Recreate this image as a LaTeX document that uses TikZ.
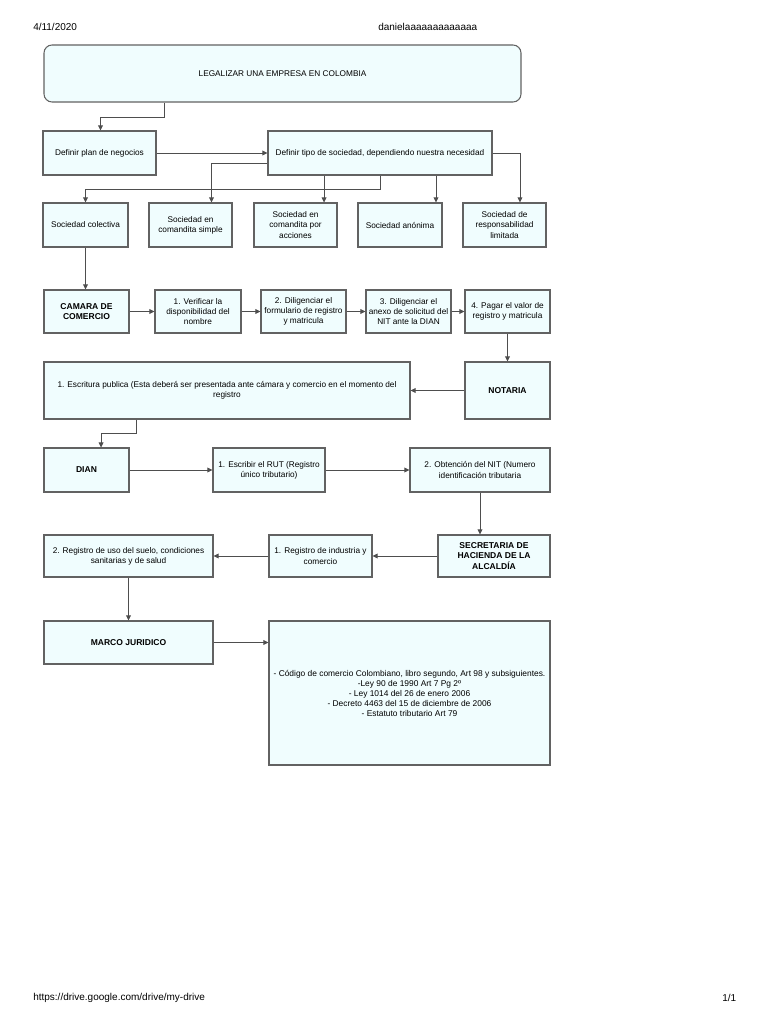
\documentclass[tikz,border=0pt]{standalone}
\usepackage{fontspec}
\setmainfont{Liberation Sans}
\usepackage{xcolor}
\definecolor{boxfill}{HTML}{F0FDFE}
\definecolor{boxline}{HTML}{626262}
\definecolor{linkgrey}{HTML}{4E4E4E}
\usetikzlibrary{arrows.meta,positioning}

\begin{document}
\begin{tikzpicture}[x=0.75pt,y=-0.75pt,
  stepbox/.style={draw=boxline,line width=0.8pt,fill=boxfill,align=center,
    font=\fontsize{6.2}{7.6}\selectfont,inner sep=1pt},
  keybox/.style={stepbox,font=\fontsize{6.4}{7.6}\selectfont\bfseries},
  pagetxt/.style={font=\fontsize{7.5}{9}\selectfont,anchor=west,inner sep=0pt},
  arr/.style={-{Triangle[length=3.8pt,width=3.6pt]},line width=0.6pt,linkgrey}]
  \useasboundingbox (0,0) rectangle (768,1024);
  % page header and footer
  \node[pagetxt] (date) at (33,27) {4/11/2020};
  \node[pagetxt] (user) at (378,27) {danielaaaaaaaaaaaaa};
  \node[pagetxt] (url) at (33,998) {https://drive.google.com/drive/my-drive};
  \node[pagetxt] (pg) at (722,998) {1/1};
  % title and first choices
  \node[stepbox,rounded corners=6pt,minimum width=477*0.75pt,minimum height=57*0.75pt]
    (title) at (282.5,73.5) {LEGALIZAR UNA EMPRESA EN COLOMBIA};
  \node[stepbox,minimum width=113*0.75pt,minimum height=44*0.75pt] (plan) at (99.5,153)
    {Definir plan de negocios};
  \node[stepbox,minimum width=224*0.75pt,minimum height=44*0.75pt] (tipo) at (380,153)
    {Definir tipo de sociedad, dependiendo nuestra necesidad};
  % kinds of company
  \node[stepbox,minimum width=85*0.75pt,minimum height=44*0.75pt] (colectiva) at (85.5,225)
    {Sociedad colectiva};
  \node[stepbox,minimum width=83*0.75pt,minimum height=44*0.75pt] (simple) at (190.5,225)
    {Sociedad en\\comandita simple};
  \node[stepbox,minimum width=83*0.75pt,minimum height=44*0.75pt] (acciones) at (295.5,225)
    {Sociedad en\\comandita por\\acciones};
  \node[stepbox,minimum width=84*0.75pt,minimum height=44*0.75pt] (anonima) at (400,225)
    {Sociedad anónima};
  \node[stepbox,minimum width=83*0.75pt,minimum height=44*0.75pt] (limitada) at (504.5,225)
    {Sociedad de\\responsabilidad\\limitada};
  % camara de comercio
  \node[keybox,minimum width=85*0.75pt,minimum height=43*0.75pt] (camara) at (86.5,311.5)
    {CAMARA DE\\COMERCIO};
  \node[stepbox,minimum width=86*0.75pt,minimum height=43*0.75pt] (verificar) at (198,311.5)
    {1. Verificar la\\disponibilidad del\\nombre};
  \node[stepbox,minimum width=85*0.75pt,minimum height=43*0.75pt] (formulario) at (303.5,311.5)
    {2. Diligenciar el\\formulario de registro\\y matricula};
  \node[stepbox,minimum width=85*0.75pt,minimum height=43*0.75pt] (anexo) at (408.5,311.5)
    {3. Diligenciar el\\anexo de solicitud del\\NIT ante la DIAN};
  \node[stepbox,minimum width=85*0.75pt,minimum height=43*0.75pt] (pagar) at (507.5,311.5)
    {4. Pagar el valor de\\registro y matricula};
  % notaria
  \node[keybox,minimum width=85*0.75pt,minimum height=57*0.75pt] (notaria) at (507.5,390.5)
    {NOTARIA};
  \node[stepbox,minimum width=366*0.75pt,minimum height=57*0.75pt] (escritura) at (227,390.5)
    {1. Escritura publica (Esta deberá ser presentada ante cámara y comercio en el momento del\\registro};
  % dian
  \node[keybox,minimum width=85*0.75pt,minimum height=44*0.75pt] (dian) at (86.5,470)
    {DIAN};
  \node[stepbox,minimum width=112*0.75pt,minimum height=44*0.75pt] (rut) at (269,470)
    {1. Escribir el RUT (Registro\\único tributario)};
  \node[stepbox,minimum width=140*0.75pt,minimum height=44*0.75pt] (nit) at (480,470)
    {2. Obtención del NIT (Numero\\identificación tributaria};
  % secretaria de hacienda
  \node[keybox,minimum width=112*0.75pt,minimum height=42*0.75pt] (secretaria) at (494,556)
    {SECRETARIA DE\\HACIENDA DE LA\\ALCALDÍA};
  \node[stepbox,minimum width=103*0.75pt,minimum height=42*0.75pt] (industria) at (320.5,556)
    {1. Registro de industria y\\comercio};
  \node[stepbox,minimum width=169*0.75pt,minimum height=42*0.75pt] (suelo) at (128.5,556)
    {2. Registro de uso del suelo, condiciones\\sanitarias y de salud};
  % marco juridico
  \node[keybox,minimum width=169*0.75pt,minimum height=43*0.75pt] (marco) at (128.5,642.5)
    {MARCO JURIDICO};
  \node[stepbox,font=\fontsize{6.3}{7.5}\selectfont,minimum width=281*0.75pt,
    minimum height=144*0.75pt] (leyes) at (409.5,693)
    {- Código de comercio Colombiano, libro segundo, Art 98 y subsiguientes.\\
     -Ley 90 de 1990 Art 7 Pg 2º\\
     - Ley 1014 del 26 de enero 2006\\
     - Decreto 4463 del 15 de diciembre de 2006\\
     - Estatuto tributario Art 79};
  % entry points that sit off centre
  \coordinate (planIn) at ([xshift=0.75pt]plan.north);
  \coordinate (simpleIn) at ([xshift=15.75pt]simple.north);
  \coordinate (accionesIn) at ([xshift=21.4pt]acciones.north);
  \coordinate (anonimaIn) at ([xshift=27pt]anonima.north);
  \coordinate (limitadaIn) at ([xshift=11.6pt]limitada.north);
  \coordinate (dianIn) at ([xshift=10.9pt]dian.north);
  % connectors
  \draw[arr] (title.south -| 164,0) -- ++(0,14.5) -| (planIn);
  \draw[arr] (plan) -- (tipo);
  \draw[arr] (tipo.south) -- ++(0,14) -| (colectiva.north);
  \draw[arr] ([yshift=-7.5pt]tipo.west) -| (simpleIn);
  \draw[arr] (tipo.south -| accionesIn) -- (accionesIn);
  \draw[arr] (tipo.south -| anonimaIn) -- (anonimaIn);
  \draw[arr] (tipo.east) -| (limitadaIn);
  \draw[arr] (colectiva.south) -- (colectiva.south |- camara.north);
  \draw[arr] (camara) -- (verificar);
  \draw[arr] (verificar) -- (formulario);
  \draw[arr] (formulario) -- (anexo);
  \draw[arr] (anexo) -- (pagar);
  \draw[arr] (pagar) -- (notaria);
  \draw[arr] (notaria) -- (escritura);
  \draw[arr] (escritura.south -| 136,0) -- ++(0,14) -| (dianIn);
  \draw[arr] (dian) -- (rut);
  \draw[arr] (rut) -- (nit);
  \draw[arr] (nit.south) -- (nit.south |- secretaria.north);
  \draw[arr] (secretaria) -- (industria);
  \draw[arr] (industria) -- (suelo);
  \draw[arr] (suelo) -- (marco);
  \draw[arr] (marco.east) -- (leyes.west |- marco.east);
\end{tikzpicture}
\end{document}
